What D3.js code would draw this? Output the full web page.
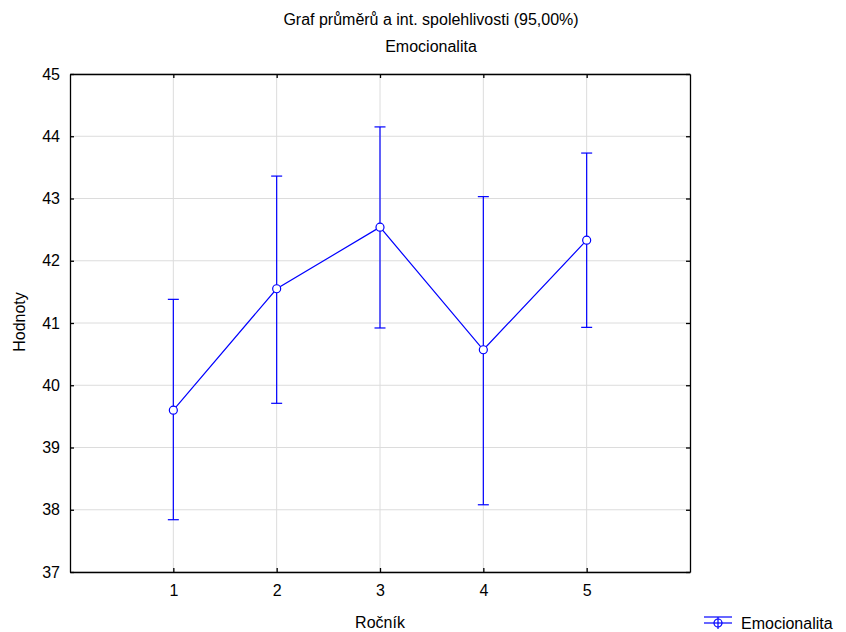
<!DOCTYPE html>
<html lang="cs">
  <head>
    <meta charset="utf-8">
    <title>Emocionalita</title>
    <script src="https://d3js.org/d3.v7.min.js"></script>
    <style>
      body { margin: 0; background: white; }
      text { font-family: "Liberation Sans", Arial, sans-serif; fill: black; }
    </style>
  </head>
  <body>
    <script type="text/javascript">

      var w = 846;
      var h = 632;
      var margin = {top: 74, right: 156, bottom: 60, left: 70};
      var innerWidth = w - margin.left - margin.right;
      var innerHeight = h - margin.top - margin.bottom;

      // data
      var categories = [1, 2, 3, 4, 5];
      var means = [39.60, 41.55, 42.54, 40.57, 42.33];
      var upper = [41.38, 43.36, 44.15, 43.03, 43.73];
      var lower = [37.84, 39.71, 40.92, 38.08, 40.93];
      var yTicks = [37, 38, 39, 40, 41, 42, 43, 44, 45];

      var dataset = categories.map(function(c, i) {
        return {cat: c, mean: means[i], hi: upper[i], lo: lower[i]};
      });

      var blue = "#0000ff";

      var svg = d3.select("body")
          .append("svg")
          .attr("width", w)
          .attr("height", h);

      svg.append("rect")
          .attr("width", w)
          .attr("height", h)
          .attr("fill", "white");

      var xScale = d3.scaleLinear()
          .domain([0, 6])
          .range([0, innerWidth]);

      var yScale = d3.scaleLinear()
          .domain([37, 45])
          .range([innerHeight, 0]);

      var g = svg.append("g")
          .attr("transform", `translate(${margin.left}, ${margin.top})`);

// grid
      g.selectAll(".hgrid")
          .data(yTicks)
          .enter().append("line")
          .attr("x1", 0)
          .attr("x2", innerWidth)
          .attr("y1", function(d) { return yScale(d); })
          .attr("y2", function(d) { return yScale(d); })
          .style("stroke", "#dcdcdc")
          .style("stroke-width", 1);

      g.selectAll(".vgrid")
          .data(categories)
          .enter().append("line")
          .attr("x1", function(d) { return xScale(d); })
          .attr("x2", function(d) { return xScale(d); })
          .attr("y1", 0)
          .attr("y2", innerHeight)
          .style("stroke", "#dcdcdc")
          .style("stroke-width", 1);

// axes (ticks inward)
      var fmt = d3.format("d");
      var xAxis = d3.axisBottom(xScale).tickValues(categories).tickFormat(fmt).tickSizeInner(-4).tickSizeOuter(0).tickPadding(13);
      var xAxisTop = d3.axisTop(xScale).tickValues(categories).tickSizeInner(-4).tickSizeOuter(0);
      var yAxis = d3.axisLeft(yScale).tickValues(yTicks).tickFormat(fmt).tickSizeInner(-4).tickSizeOuter(0).tickPadding(10);
      var yAxisRight = d3.axisRight(yScale).tickValues(yTicks).tickSizeInner(-4).tickSizeOuter(0);

      [
        {axis: xAxis, t: `translate(0, ${innerHeight})`, labels: true},
        {axis: xAxisTop, t: "translate(0, 0)", labels: false},
        {axis: yAxis, t: "translate(0, 0)", labels: true},
        {axis: yAxisRight, t: `translate(${innerWidth}, 0)`, labels: false}
      ].forEach(function(a) {
        var ag = g.append("g").attr("transform", a.t).call(a.axis);
        ag.select(".domain").attr("stroke", "black").attr("stroke-width", 1.3);
        ag.selectAll(".tick line").attr("stroke", "black").attr("stroke-width", 1.3);
        if (!a.labels) ag.selectAll(".tick text").remove();
        ag.selectAll("text")
            .style("font-size", "16px")
            .style("font-family", "Liberation Sans, Arial, sans-serif");
      });

// error bars
      var bars = g.selectAll(".err")
          .data(dataset)
          .enter().append("g")
          .attr("class", "err");

      bars.append("line")
          .attr("x1", function(d) { return xScale(d.cat); })
          .attr("x2", function(d) { return xScale(d.cat); })
          .attr("y1", function(d) { return yScale(d.lo); })
          .attr("y2", function(d) { return yScale(d.hi); })
          .style("stroke", blue).style("stroke-width", 1.2);

      bars.append("line")
          .attr("x1", function(d) { return xScale(d.cat) - 5.5; })
          .attr("x2", function(d) { return xScale(d.cat) + 5.5; })
          .attr("y1", function(d) { return yScale(d.hi); })
          .attr("y2", function(d) { return yScale(d.hi); })
          .style("stroke", blue).style("stroke-width", 1.2);

      bars.append("line")
          .attr("x1", function(d) { return xScale(d.cat) - 5.5; })
          .attr("x2", function(d) { return xScale(d.cat) + 5.5; })
          .attr("y1", function(d) { return yScale(d.lo); })
          .attr("y2", function(d) { return yScale(d.lo); })
          .style("stroke", blue).style("stroke-width", 1.2);

// mean line
      var line = d3.line()
          .x(function(d) { return xScale(d.cat); })
          .y(function(d) { return yScale(d.mean); });

      g.append("path")
          .datum(dataset)
          .attr("d", line)
          .attr("fill", "none")
          .style("stroke", blue)
          .style("stroke-width", 1.2);

      g.selectAll(".dot")
          .data(dataset)
          .enter().append("circle")
          .attr("cx", function(d) { return xScale(d.cat); })
          .attr("cy", function(d) { return yScale(d.mean); })
          .attr("r", 4)
          .attr("fill", "white")
          .style("stroke", blue)
          .style("stroke-width", 1.2);

// titles
      svg.append("text")
          .attr("x", 431)
          .attr("y", 25)
          .attr("text-anchor", "middle")
          .style("font-size", "16px")
          .text("Graf průměrů a int. spolehlivosti (95,00%)");

      svg.append("text")
          .attr("x", 431)
          .attr("y", 52)
          .attr("text-anchor", "middle")
          .style("font-size", "16px")
          .text("Emocionalita");

      svg.append("text")
          .attr("x", margin.left + xScale(3))
          .attr("y", 628)
          .attr("text-anchor", "middle")
          .style("font-size", "16px")
          .text("Ročník");

      svg.append("text")
          .attr("transform", "translate(25, 322) rotate(-90)")
          .attr("text-anchor", "middle")
          .style("font-size", "16px")
          .text("Hodnoty");

// legend
      var lg = svg.append("g").attr("transform", "translate(704, 623)");
      lg.append("line").attr("x1", 0).attr("x2", 28).attr("y1", 0).attr("y2", 0)
          .style("stroke", blue).style("stroke-width", 1.2);
      lg.append("line").attr("x1", 0).attr("x2", 28).attr("y1", -6).attr("y2", -6)
          .style("stroke", blue).style("stroke-width", 1.2);
      lg.append("line").attr("x1", 14).attr("x2", 14).attr("y1", -6).attr("y2", 6)
          .style("stroke", blue).style("stroke-width", 1.2);
      lg.append("circle").attr("cx", 14).attr("cy", 0).attr("r", 4)
          .attr("fill", "none").style("stroke", blue).style("stroke-width", 1.2);
      lg.append("text").attr("x", 37).attr("y", 6)
          .style("font-size", "16px")
          .text("Emocionalita");

    </script>
  </body>
</html>
